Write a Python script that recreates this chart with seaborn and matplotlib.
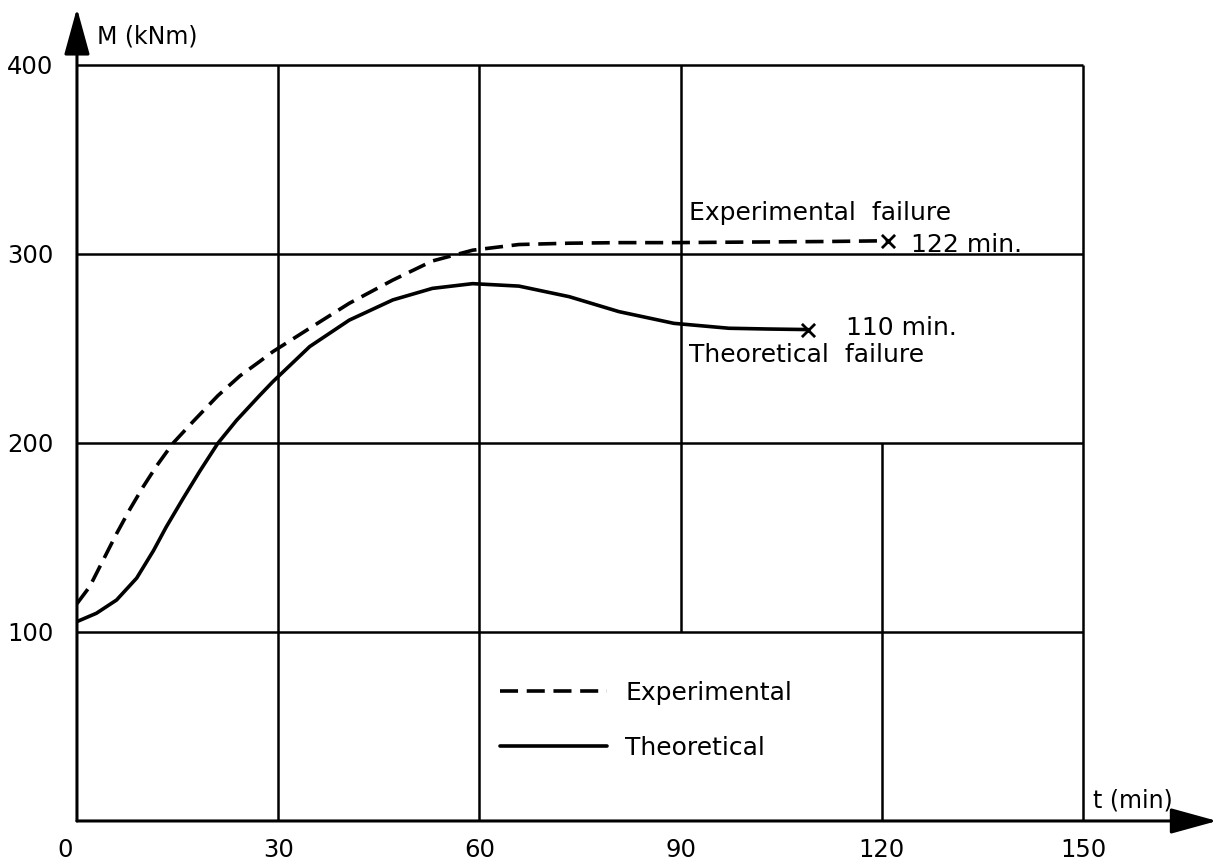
import matplotlib
matplotlib.use("Agg")
import matplotlib.pyplot as plt
import matplotlib.transforms as mtransforms
import seaborn as sns
import pandas as pd

# ---- data ----
t_exp = [0, 1.9, 3.9, 5.9, 7.9, 9.9, 11.9, 14.3, 17.3, 21, 24.3, 27.2, 29.2, 34.7,
         40.6, 47.1, 53, 59, 65.9, 73.4, 81, 89, 100, 112, 121]
M_exp = [115, 124, 138, 152, 165, 177, 188, 199.8, 211.3, 225, 235.5, 243, 248.3, 260.7,
         273.9, 286.2, 296.3, 302, 305, 305.7, 306, 306, 306.3, 306.6, 307]

t_th = [0, 2.9, 5.9, 8.9, 11.4, 13.3, 15.8, 18.3, 21, 23.8, 27.2, 29.2, 34.7, 40.6,
        47.1, 53, 59, 65.9, 73.4, 80.8, 89, 97.2, 103, 109]
M_th = [105.5, 109.9, 116.9, 128.5, 143, 155.5, 170.5, 185, 199.8, 212, 225, 232.4, 251, 265,
        275.7, 281.8, 284.3, 283, 277.4, 269.5, 263.3, 260.7, 260.3, 260]

x_ticks = [0, 30, 60, 90, 120, 150]
y_ticks = [100, 200, 300, 400]
h_grid = [100, 200, 300, 400]
v_grid = [30, 60, 90, 120, 150]
v_grid_from = [0, 0, 100, 0, 0]
v_grid_to = [400, 400, 400, 200, 400]

series_labels = ["Experimental", "Theoretical"]
fail_exp_label = "122 min."
fail_th_label = "110 min."

sns.set_style("white")
plt.rcParams["font.family"] = ["DejaVu Sans"]
plt.rcParams["text.color"] = "black"
plt.rcParams["xtick.color"] = "black"
plt.rcParams["ytick.color"] = "black"
plt.rcParams["axes.labelcolor"] = "black"

fig = plt.figure(figsize=(12.16, 8.64), dpi=100)
ax = fig.add_axes([0.0633, 0.0498, 0.8273, 0.875])
ax.set_xlim(0, 150)
ax.set_ylim(0, 400)
for s in ax.spines.values():
    s.set_visible(False)

# grid
ax.hlines(h_grid, 0, 150, color="black", lw=1.8, zorder=1, clip_on=False)
ax.vlines(v_grid, v_grid_from, v_grid_to, color="black", lw=1.8, zorder=1, clip_on=False)

# axes with arrows
arrow_style = "-|>,head_length=0.4,head_width=0.11"
ax.annotate("", xy=(170, 0), xytext=(0, 0), xycoords="data",
            arrowprops=dict(arrowstyle=arrow_style, mutation_scale=72, lw=2.2,
                            color="black", shrinkA=0, shrinkB=0),
            annotation_clip=False, zorder=3)
ax.annotate("", xy=(0, 430), xytext=(0, 0), xycoords="data",
            arrowprops=dict(arrowstyle=arrow_style, mutation_scale=72, lw=2.2,
                            color="black", shrinkA=0, shrinkB=0),
            annotation_clip=False, zorder=3)

df_exp = pd.DataFrame({"t": t_exp, "M": M_exp})
df_th = pd.DataFrame({"t": t_th, "M": M_th})

sns.lineplot(data=df_exp, x="t", y="M", ax=ax, color="black", lw=2.6,
             estimator=None, ls=(0, (5, 2.4)), label=series_labels[0], zorder=4)
sns.lineplot(data=df_th, x="t", y="M", ax=ax, color="black", lw=2.6,
             estimator=None, label=series_labels[1], zorder=4)
for ln in ax.lines:
    ln.set_solid_joinstyle("round")
    ln.set_dash_joinstyle("round")

# failure markers
sns.scatterplot(x=[t_exp[-1]], y=[M_exp[-1]], ax=ax, marker="x", s=90,
                color="black", linewidth=2.0, zorder=5, legend=False)
sns.scatterplot(x=[t_th[-1]], y=[M_th[-1]], ax=ax, marker="x", s=90,
                color="black", linewidth=2.0, zorder=5, legend=False)

fs = 18
ax.text(91.2, 321.7, "Experimental  failure", fontsize=fs, ha="left", va="center")
ax.text(124.3, 305, fail_exp_label, fontsize=fs, ha="left", va="center")
ax.text(114.7, 260.8, fail_th_label, fontsize=fs, ha="left", va="center")
ax.text(91.2, 246.6, "Theoretical  failure", fontsize=fs, ha="left", va="center")

# axis titles
ax.text(3.0, 415, "M (kNm)", fontsize=17, ha="left", va="center", clip_on=False)
ax.text(151.5, 11, "t (min)", fontsize=17, ha="left", va="center", clip_on=False)

# ticks
ax.set_xticks(x_ticks)
ax.set_xticklabels([str(v) for v in x_ticks])
ax.set_yticks(y_ticks)
ax.set_yticklabels([str(v) for v in y_ticks])
ax.tick_params(axis="x", direction="out", length=5, width=1.5, pad=7, labelsize=17.5)
ax.tick_params(axis="y", direction="out", length=4, width=1.5, pad=13, labelsize=17.5)
ax.set_xlabel("")
ax.set_ylabel("")
lbl0 = ax.get_xticklabels()[0]
lbl0.set_transform(lbl0.get_transform() + mtransforms.ScaledTranslation(-12 / 100, 0, fig.dpi_scale_trans))

# legend
handles, labels = ax.get_legend_handles_labels()
leg = ax.legend(handles, labels, loc="upper left", bbox_to_anchor=(0.4205, 0.185),
                frameon=False, fontsize=fs, handlelength=4.3, handletextpad=0.72,
                labelspacing=1.22, borderpad=0, borderaxespad=0)

fig.savefig("out.png", dpi=100)
